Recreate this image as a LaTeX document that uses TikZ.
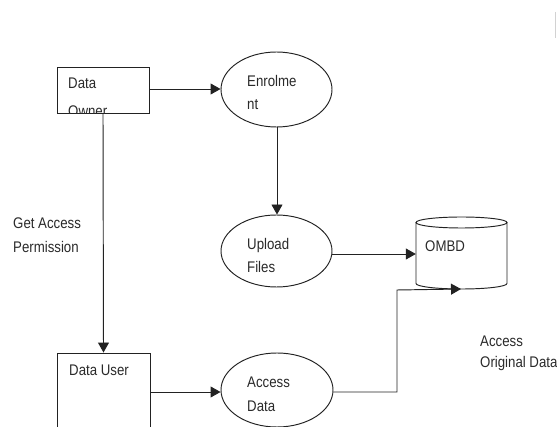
\documentclass[tikz,border=0pt]{standalone}
\usepackage{fontspec}
\setmainfont[FakeStretch=0.86]{Liberation Sans}
\usetikzlibrary{arrows.meta,shapes.geometric}
\definecolor{ink}{HTML}{222222}
\definecolor{txt}{HTML}{2A2A2A}
\tikzset{
  line/.style={draw=ink,line width=0.95pt},
  flow/.style={line,-{Triangle[length=10pt,width=11pt]}},
  boxshape/.style={line,rectangle,inner sep=0pt},
  procshape/.style={line,ellipse,inner sep=0pt},
  lbl/.style={anchor=base west,inner sep=0pt,text=txt,font=\fontsize{15.4}{18}\selectfont},
}
\begin{document}
\begin{tikzpicture}[x=1pt,y=-1pt]
\useasboundingbox (0,0) rectangle (557,427);
\clip (0,0) rectangle (557,427);
\fill[white] (0,0) rectangle (557,427);

% entities
\node[boxshape,minimum width=92pt,minimum height=46pt] (owner) at (103,90) {};
\node[boxshape,minimum width=93pt,minimum height=90pt] (user) at (103.5,398) {};

% processes
\node[procshape,minimum width=111pt,minimum height=75pt] (enrol) at (276.5,89.5) {};
\node[procshape,minimum width=111pt,minimum height=72pt] (upload) at (276.5,251) {};
\node[procshape,minimum width=112pt,minimum height=74pt] (adata) at (277,390) {};

% data store
\node[inner sep=0pt,minimum width=91pt,minimum height=72pt] (store) at (461.5,253) {};
\draw[line] (461.5,222.5) ellipse [x radius=45.5pt,y radius=5.5pt];
\draw[line] (416,222.5) -- (416,283.5) arc [start angle=180,end angle=360,x radius=45.5pt,y radius=5.5pt] -- (507,222.5);
\coordinate (storebot) at (461,289);

% texts
\begin{scope}
  \clip (owner.south west) rectangle (owner.north east);
  \node[lbl] (ownerA) at (68,89) {Data};
  \node[lbl] (ownerB) at (68,116.5) {Owner};
\end{scope}
\node[lbl] (userT) at (69,376) {Data User};
\node[lbl] (enrolA) at (247,87) {Enrolme};
\node[lbl] (enrolB) at (247,110) {nt};
\node[lbl] (uploadA) at (247,250) {Upload};
\node[lbl] (uploadB) at (247,273) {Files};
\node[lbl] (adataA) at (247,388) {Access};
\node[lbl] (adataB) at (247,412) {Data};
\node[lbl] (storeT) at (425,252) {OMBD};
\node[lbl] (permA) at (13,229) {Get Access};
\node[lbl] (permB) at (13,253) {Permission};
\node[lbl] (origA) at (480,347) {Access};
\node[lbl] (origB) at (480,368) {Original Data};

% flows
\draw[flow] (owner.east |- 0,89) -- (enrol.west |- 0,89);
\draw[flow] (enrol.south -| 277,0) -- (upload.north -| 277,0);
\draw[flow] (upload.east |- 0,254) -- (store.west |- 0,254);
\draw[flow] (owner.south) -- (user.north);
\draw[flow] (user.east |- 0,392) -- (adata.west |- 0,392);
\draw[flow] (adata.east |- 0,392) -| (397,290) -- (storebot);

% faint mark at the top edge
\draw[gray!35,line width=0.8pt] (555,12) -- (555,38);
\end{tikzpicture}
\end{document}
